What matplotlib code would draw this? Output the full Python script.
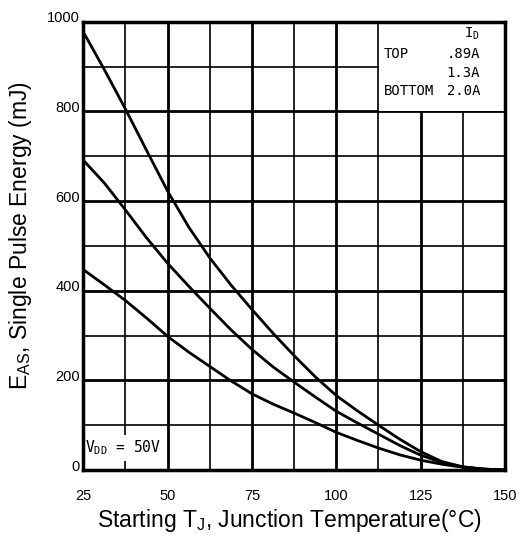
import matplotlib
matplotlib.use("Agg")
import matplotlib.pyplot as plt
from matplotlib.patches import Rectangle
from matplotlib.transforms import ScaledTranslation

# starting junction temperature (deg C)
tj = [25, 31.25, 37.5, 43.75, 50, 56.25, 62.5, 68.75, 75, 81.25, 87.5,
      93.75, 100, 106.25, 112.5, 118.75, 125, 131.25, 137.5, 143.75, 150]

# single pulse avalanche energy (mJ)
eas_089a = [977, 893, 805, 713, 622, 542, 473, 413, 358, 305, 255,
            208, 166, 132, 100, 69, 41, 19, 7, 2, 0]
eas_13a = [691, 640, 580, 518, 461, 410, 361, 313, 269, 230, 196,
           163, 131, 105, 80, 55, 33, 17, 7, 2, 0]
eas_20a = [447, 413, 378, 339, 298, 263, 231, 199, 170, 147, 127,
           106, 84, 66, 49, 34, 22, 13, 6, 2, 0]

x_ticks = [25, 50, 75, 100, 125, 150]
y_ticks = [0, 200, 400, 600, 800, 1000]

legend_rows = [("TOP", ".89A"), ("", "1.3A"), ("BOTTOM", "2.0A")]

plt.rcParams["font.family"] = ["Liberation Sans", "DejaVu Sans"]
mono = ["DejaVu Sans Mono"]

fig = plt.figure(figsize=(5.28, 5.43), dpi=100)
ax = fig.add_axes([0.1578, 0.1344, 0.7986, 0.8256])

ax.set_xlim(25, 150)
ax.set_ylim(0, 1000)

# grid: heavy on labelled values, light in between
for v in range(25, 151, 25):
    ax.axvline(v, color="black", lw=2.0, zorder=1)
for v in [37.5, 62.5, 87.5, 112.5, 137.5]:
    ax.axvline(v, color="black", lw=1.2, zorder=1)
for v in range(0, 1001, 200):
    ax.axhline(v, color="black", lw=2.0, zorder=1)
for v in range(100, 1000, 200):
    ax.axhline(v, color="black", lw=1.2, zorder=1)

# white panel for the current legend
ax.add_patch(Rectangle((112.6, 800.5), 37.4, 199.5, facecolor="white",
                       edgecolor="none", zorder=2))

for y in (eas_089a, eas_13a, eas_20a):
    ax.plot(tj, y, color="black", lw=2.0, zorder=4,
            solid_capstyle="round", solid_joinstyle="round")

ax.text(142.6, 972, "I$_\\mathregular{D}$", family=mono, fontsize=10,
        ha="right", va="center", zorder=5)
for (label, val), ypos in zip(legend_rows, [927, 885, 846]):
    if label:
        ax.text(114.0, ypos, label, family=mono, fontsize=10,
                ha="left", va="center", zorder=5)
    ax.text(142.6, ypos, val, family=mono, fontsize=10,
            ha="right", va="center", zorder=5)

ax.text(25.6, 49, "V$_\\mathregular{DD}$ = 50V", family=mono, fontsize=10.5,
        ha="left", va="center", zorder=5,
        bbox=dict(facecolor="white", edgecolor="none", pad=2.5))

for side in ax.spines.values():
    side.set_linewidth(2.5)
    side.set_zorder(6)

ax.set_xticks(x_ticks)
ax.set_yticks(y_ticks)
ax.tick_params(axis="both", length=0, labelsize=10.5)
ax.tick_params(axis="x", pad=14)
ax.tick_params(axis="y", pad=2.5)
lift = ScaledTranslation(0, 5 / 100, fig.dpi_scale_trans)
for lbl in ax.get_yticklabels():
    lbl.set_transform(lbl.get_transform() + lift)

ax.set_xlabel("Starting T$_\\mathregular{J}$, Junction Temperature(°C)",
              fontsize=16.5, va="center")
ax.xaxis.set_label_coords(0.488, -0.112)
ax.set_ylabel("E$_\\mathregular{AS}$, Single Pulse Energy (mJ)",
              fontsize=16.5, va="center")
ax.yaxis.set_label_coords(-0.150, 0.524)

fig.savefig("out.png", dpi=100)
